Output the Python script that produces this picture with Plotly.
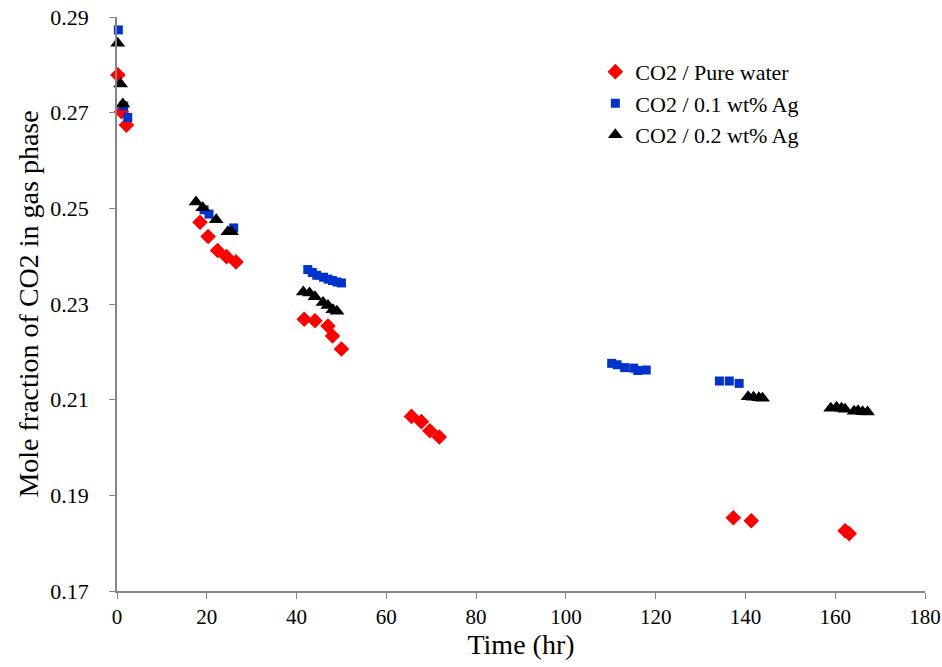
import plotly.graph_objects as go

# CO2 / Pure water
t_water = [0.2, 1.0, 2.1, 18.5, 20.3, 22.4, 24.4, 26.5, 41.7, 44.1, 47.0, 48.0, 50.0,
           65.6, 67.8, 69.7, 71.8, 137.3, 141.3, 162.2, 163.1]
y_water = [0.2779, 0.2702, 0.2674, 0.2471, 0.2441, 0.2412, 0.2399, 0.2388, 0.2268, 0.2265,
           0.2254, 0.2233, 0.2206, 0.2065, 0.2054, 0.2035, 0.2022, 0.1853, 0.1847, 0.1826, 0.1820]

# CO2 / 0.1 wt% Ag
t_ag01 = [0.3, 1.5, 2.4, 19.4, 20.5, 26.0, 42.5, 43.5, 44.5, 46.0, 47.0, 48.0, 49.0, 50.0,
          110.2, 111.4, 113.1, 115.1, 116.0, 117.9, 134.2, 136.4, 138.6]
y_ag01 = [0.2873, 0.2714, 0.2690, 0.2497, 0.2488, 0.2459, 0.2372, 0.2366, 0.2360, 0.2356,
          0.2352, 0.2349, 0.2346, 0.2344, 0.2176, 0.2173, 0.2167, 0.2166, 0.2161, 0.2162,
          0.2139, 0.2139, 0.2134]

# CO2 / 0.2 wt% Ag
t_ag02 = [0.15, 0.8, 1.3, 17.6, 19.1, 22.1, 24.7, 25.5, 41.5, 42.9, 44.1, 45.9, 47.0, 48.1, 49.0,
          140.6, 141.8, 143.0, 143.8, 159.0, 160.3, 161.4, 162.2, 164.2, 165.1, 166.1, 167.2]
y_ag02 = [0.2845, 0.2760, 0.2718, 0.2513, 0.2501, 0.2476, 0.2451, 0.2451, 0.2325, 0.2323,
          0.2315, 0.2303, 0.2297, 0.2288, 0.2285, 0.2106, 0.2105, 0.2104, 0.2103,
          0.2082, 0.2084, 0.2082, 0.2080, 0.2076, 0.2077, 0.2075, 0.2074]

x_ticks = [0, 20, 40, 60, 80, 100, 120, 140, 160, 180]
y_ticks = [0.17, 0.19, 0.21, 0.23, 0.25, 0.27, 0.29]

font = "Liberation Serif, Times New Roman, serif"

fig = go.Figure()
fig.add_trace(go.Scatter(x=t_water, y=y_water, mode="markers", name="CO2 / Pure water",
                         marker=dict(symbol="diamond", size=12, color="#ff0000"), cliponaxis=False))
fig.add_trace(go.Scatter(x=t_ag01, y=y_ag01, mode="markers", name="CO2 / 0.1 wt% Ag",
                         marker=dict(symbol="square", size=9, color="#0033cc"), cliponaxis=False))
fig.add_trace(go.Scatter(x=t_ag02, y=y_ag02, mode="markers", name="CO2 / 0.2 wt% Ag",
                         marker=dict(symbol="triangle-up", size=13, color="#000000"), cliponaxis=False))

axis_style = dict(showline=True, linecolor="#868686", linewidth=1.5, ticks="outside",
                  ticklen=6, tickcolor="#868686", showgrid=False, zeroline=False, automargin=False)

fig.update_layout(
    width=942, height=667,
    margin=dict(l=117, r=17, t=17, b=76),
    plot_bgcolor="white", paper_bgcolor="white",
    font=dict(family=font, color="black"),
    xaxis=dict(range=[0, 180], tickvals=x_ticks, ticktext=[str(v) for v in x_ticks],
               ticklabeloverflow="allow", tickfont=dict(family=font, size=21, color="black"),
               title=dict(text="Time (hr)", font=dict(size=28), standoff=4), **axis_style),
    yaxis=dict(range=[0.17, 0.29], tickvals=y_ticks, ticktext=[f"{v:.2f}" for v in y_ticks],
               ticklabelstandoff=16, tickfont=dict(family=font, size=22, color="black"),
               title=dict(text="Mole fraction of CO2 in gas phase", font=dict(size=28), standoff=4), **axis_style),
    legend=dict(x=0.592, y=0.941, xanchor="left", yanchor="top", font=dict(family=font, size=22),
                bgcolor="rgba(0,0,0,0)", itemwidth=30),
    showlegend=True,
)

# drop the default 8px page margin so the figure fills the window exactly
fig.write_html("out.html", config={"displayModeBar": False},
               post_script="document.body.style.margin='0px';")
